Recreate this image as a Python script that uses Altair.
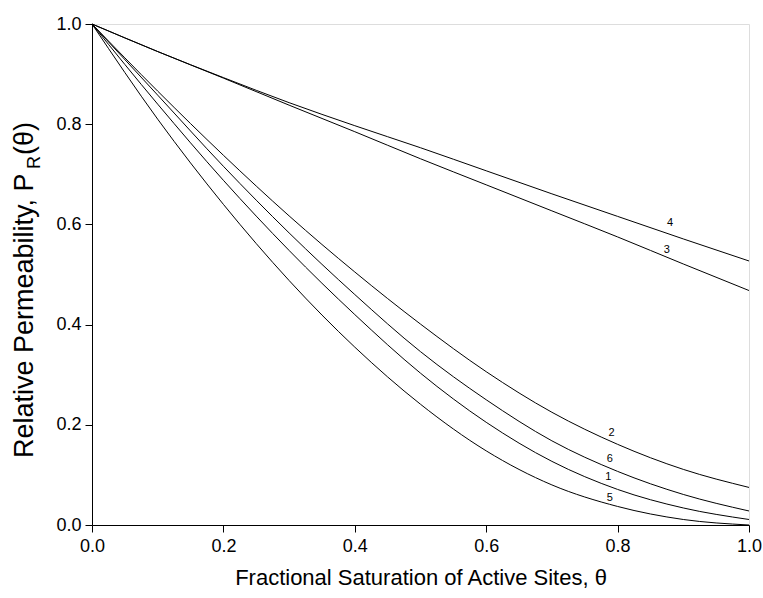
import altair as alt
import pandas as pd

# Fractional saturation of active sites
theta = [0.0, 0.1, 0.2, 0.3, 0.4, 0.5, 0.6, 0.7, 0.8, 0.9, 1.0]

# Relative permeability for each model curve
curve_1 = [1.0, 0.840, 0.688, 0.548, 0.420, 0.303, 0.205, 0.127, 0.071, 0.034, 0.011]
curve_2 = [1.0, 0.866, 0.738, 0.617, 0.505, 0.401, 0.306, 0.225, 0.161, 0.111, 0.075]
curve_3 = [1.0, 0.945, 0.892, 0.838, 0.785, 0.731, 0.679, 0.627, 0.575, 0.521, 0.468]
curve_4 = [1.0, 0.945, 0.893, 0.843, 0.797, 0.753, 0.707, 0.661, 0.616, 0.571, 0.527]
curve_5 = [1.0, 0.810, 0.640, 0.488, 0.355, 0.241, 0.148, 0.080, 0.037, 0.011, 0.0]
curve_6 = [1.0, 0.858, 0.716, 0.583, 0.460, 0.346, 0.250, 0.168, 0.107, 0.061, 0.028]

# Curve number labels and where they sit
label_text = ["4", "3", "2", "6", "1", "5"]
label_theta = [0.880, 0.875, 0.791, 0.788, 0.786, 0.788]
label_value = [0.603, 0.549, 0.184, 0.132, 0.095, 0.053]

x_ticks = [0.0, 0.2, 0.4, 0.6, 0.8, 1.0]
y_ticks = [0.0, 0.2, 0.4, 0.6, 0.8, 1.0]

FONT = "Liberation Sans"

series = {"1": curve_1, "2": curve_2, "3": curve_3,
          "4": curve_4, "5": curve_5, "6": curve_6}
rows = []
for name, vals in series.items():
    for t, v in zip(theta, vals):
        rows.append({"theta": t, "value": v, "curve": name})
df = pd.DataFrame(rows)

labels_df = pd.DataFrame({"theta": label_theta, "value": label_value,
                          "label": label_text})

axis_common = dict(format=".1f", grid=False, tickSize=7, tickColor="black",
                   domainColor="black", labelFont=FONT, labelFontSize=18,
                   labelColor="black", labelFlush=False, labelOverlap=False)

x_enc = alt.X("theta:Q",
              scale=alt.Scale(domain=[0, 1], nice=False),
              axis=alt.Axis(values=x_ticks, labelPadding=5,
                            title="Fractional Saturation of Active Sites, θ",
                            titleFont=FONT, titleFontSize=22,
                            titleFontWeight="normal", titleColor="black",
                            titlePadding=12, **axis_common))
y_enc = alt.Y("value:Q",
              scale=alt.Scale(domain=[0, 1], nice=False),
              axis=alt.Axis(values=y_ticks, labelPadding=4, title=None,
                            **axis_common))

lines = alt.Chart(df).mark_line(color="black", strokeWidth=1,
                                interpolate="monotone").encode(
    x=x_enc, y=y_enc, detail="curve:N")

curve_labels = alt.Chart(labels_df).mark_text(
    font=FONT, fontSize=11, color="black", baseline="middle", align="center"
).encode(x="theta:Q", y="value:Q", text="label:N")


# Rotated y-axis title with a subscript R
def title_piece(text, size, xpos, ypos):
    return alt.Chart(pd.DataFrame({"t": [text]})).mark_text(
        font=FONT, fontSize=size, color="black", angle=270,
        align="left", baseline="alphabetic"
    ).encode(text="t:N", x=alt.value(xpos), y=alt.value(ypos))


y_title = (title_piece("Relative Permeability, P", 27, -59, 434)
           + title_piece("R", 18, -52, 145)
           + title_piece("(θ)", 27, -59, 131))

chart = alt.layer(lines, curve_labels, y_title).properties(
    width=657, height=501,
    autosize=alt.AutoSizeParams(type="none"),
    padding={"left": 92, "top": 24, "right": 14, "bottom": 73},
).configure_view(stroke="black", strokeWidth=1).configure(background="white")

chart.save("out.html", embed_options={"renderer": "svg", "actions": False})
